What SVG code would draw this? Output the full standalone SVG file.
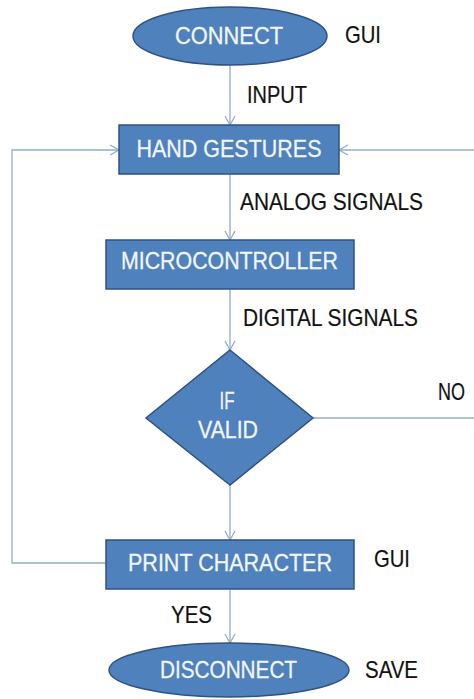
<svg xmlns="http://www.w3.org/2000/svg" width="474" height="699" viewBox="0 0 474 699">
  <style>
    .shape { fill: #4f81bd; stroke: #2f5283; stroke-width: 1.5; }
    .inner { font-family: "Liberation Sans", Arial, sans-serif; font-size: 24px; fill: #f2f6fb; stroke: #f2f6fb; stroke-width: 0.3; text-anchor: middle; }
    .label { font-family: "Liberation Sans", Arial, sans-serif; font-size: 24px; fill: #111111; stroke: #111111; stroke-width: 0.2; }
    .wire { fill: none; stroke: #94acc8; stroke-width: 1.3; }
  </style>
  <defs>
    <marker id="chev" viewBox="0 0 10 12" refX="10" refY="6" markerWidth="10" markerHeight="12" markerUnits="userSpaceOnUse" orient="auto">
      <path d="M1,1 L10,6 L1,11" fill="none" stroke="#94acc8" stroke-width="1.3"/>
    </marker>
  </defs>
  <rect width="474" height="699" fill="#ffffff"/>

  <g id="connectors">
    <path class="wire" d="M230,65 V125" marker-end="url(#chev)"/>
    <path class="wire" d="M230,174 V240" marker-end="url(#chev)"/>
    <path class="wire" d="M230,289 V350" marker-end="url(#chev)"/>
    <path class="wire" d="M230,485 V540" marker-end="url(#chev)"/>
    <path class="wire" d="M230,589 V643" marker-end="url(#chev)"/>
    <path class="wire" d="M106,563 H12 V150 H119" marker-end="url(#chev)"/>
    <path class="wire" d="M474,150 H339" marker-end="url(#chev)"/>
    <path class="wire" d="M313,418 H474"/>
  </g>

  <g id="connect">
    <ellipse class="shape" cx="230" cy="36" rx="97" ry="29"/>
    <text class="inner" x="229" y="44" textLength="108" lengthAdjust="spacingAndGlyphs">CONNECT</text>
  </g>
  <g id="hand-gestures">
    <rect class="shape" x="119" y="125" width="220" height="49"/>
    <text class="inner" x="229" y="157" textLength="185" lengthAdjust="spacingAndGlyphs">HAND GESTURES</text>
  </g>
  <g id="microcontroller">
    <rect class="shape" x="106" y="240" width="248" height="49"/>
    <text class="inner" x="229.5" y="269" textLength="217" lengthAdjust="spacingAndGlyphs">MICROCONTROLLER</text>
  </g>
  <g id="if-valid">
    <path class="shape" d="M230,350 L313,418 L230,485 L146,418 Z"/>
    <text class="inner" x="227" y="409" textLength="15" lengthAdjust="spacingAndGlyphs">IF</text>
    <text class="inner" x="228" y="438" textLength="60" lengthAdjust="spacingAndGlyphs">VALID</text>
  </g>
  <g id="print-character">
    <rect class="shape" x="106" y="540" width="248" height="49"/>
    <text class="inner" x="230" y="571" textLength="204" lengthAdjust="spacingAndGlyphs">PRINT CHARACTER</text>
  </g>
  <g id="disconnect">
    <ellipse class="shape" cx="229" cy="670" rx="120" ry="27"/>
    <text class="inner" x="228.5" y="678" textLength="137" lengthAdjust="spacingAndGlyphs">DISCONNECT</text>
  </g>

  <g id="labels">
    <text class="label" x="345" y="43" textLength="36" lengthAdjust="spacingAndGlyphs">GUI</text>
    <text class="label" x="247" y="103" textLength="60" lengthAdjust="spacingAndGlyphs">INPUT</text>
    <text class="label" x="240" y="210" textLength="183" lengthAdjust="spacingAndGlyphs">ANALOG SIGNALS</text>
    <text class="label" x="243" y="326" textLength="175" lengthAdjust="spacingAndGlyphs">DIGITAL SIGNALS</text>
    <text class="label" x="438" y="400" textLength="27" lengthAdjust="spacingAndGlyphs">NO</text>
    <text class="label" x="374" y="567" textLength="36" lengthAdjust="spacingAndGlyphs">GUI</text>
    <text class="label" x="171" y="623" textLength="41" lengthAdjust="spacingAndGlyphs">YES</text>
    <text class="label" x="365" y="678" textLength="53" lengthAdjust="spacingAndGlyphs">SAVE</text>
  </g>
</svg>
